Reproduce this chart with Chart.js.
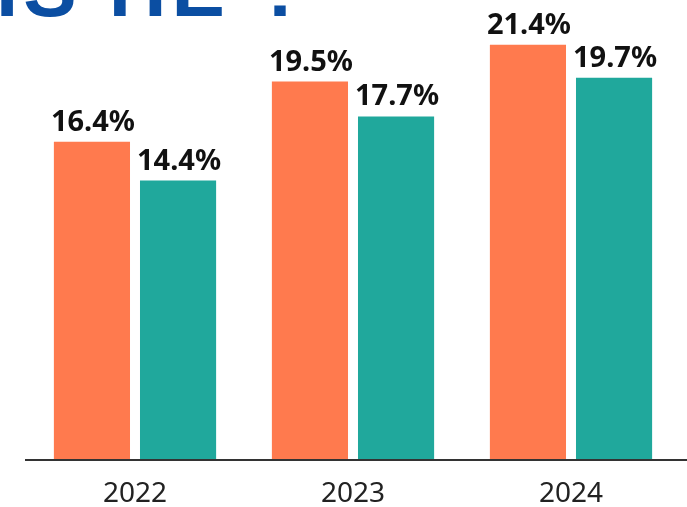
<!DOCTYPE html>
<html>
<head>
<meta charset="utf-8">
<script src="https://cdn.jsdelivr.net/npm/chart.js@4"></script>
<style>
  html, body { margin: 0; padding: 0; background: #fff; }
  #wrap { width: 687px; height: 507px; }
</style>
</head>
<body>
<div id="wrap"><canvas id="myChart" width="687" height="507"></canvas></div>
<script>
const years = ['2022', '2023', '2024'];
const seriesA = [16.4, 19.5, 21.4];
const seriesB = [14.4, 17.7, 19.7];
const titleText = 'IS HE ?';

// value labels above bars
const barLabels = {
    id: 'barLabels',
    afterDatasetsDraw(chart) {
        const ctx = chart.ctx;
        ctx.save();
        ctx.font = 'bold 29px "Noto Sans"';
        ctx.fillStyle = '#111';
        ctx.textAlign = 'center';
        ctx.textBaseline = 'alphabetic';
        chart.data.datasets.forEach((ds, i) => {
            chart.getDatasetMeta(i).data.forEach((bar, j) => {
                ctx.fillText(ds.data[j].toFixed(1) + '%', bar.x + 1, bar.y - 11);
            });
        });
        ctx.restore();
    }
};

// baseline + cut-off heading at the top
const extras = {
    id: 'extras',
    afterDraw(chart) {
        const ctx = chart.ctx;
        const y = chart.scales.y.getPixelForValue(0);
        ctx.save();
        ctx.strokeStyle = '#333';
        ctx.lineWidth = 2;
        ctx.beginPath();
        ctx.moveTo(chart.chartArea.left - 1, y);
        ctx.lineTo(chart.width, y);
        ctx.stroke();

        ctx.font = 'bold 80px "Liberation Sans"';
        ctx.fillStyle = '#0b4ea2';
        ctx.textAlign = 'left';
        ctx.letterSpacing = '5px';
        ctx.fillText(titleText, -4, 16);
        ctx.restore();
    }
};

let chart = document.getElementById('myChart').getContext('2d');

let myChart = new Chart(chart, {
    type: 'bar',
    data: {
        labels: years,
        datasets: [
            {
                label: 'A',
                data: seriesA,
                backgroundColor: 'rgb(255, 122, 78)',
                categoryPercentage: 0.79,
                barPercentage: 0.884
            },
            {
                label: 'B',
                data: seriesB,
                backgroundColor: 'rgb(32, 168, 156)',
                categoryPercentage: 0.79,
                barPercentage: 0.884
            }
        ]
    },
    options: {
        responsive: false,
        animation: false,
        layout: { padding: { left: 26, right: 7, top: 0, bottom: 0 } },
        plugins: {
            legend: { display: false },
            tooltip: { enabled: false }
        },
        scales: {
            x: {
                grid: { display: false },
                border: { display: false },
                ticks: {
                    color: '#222',
                    font: { family: '"Noto Sans"', size: 28 },
                    padding: 9
                },
                afterFit(scale) { scale.height = 47; }
            },
            y: {
                display: false,
                min: 0,
                max: 23.7
            }
        }
    },
    plugins: [barLabels, extras]
});
</script>
</body>
</html>
